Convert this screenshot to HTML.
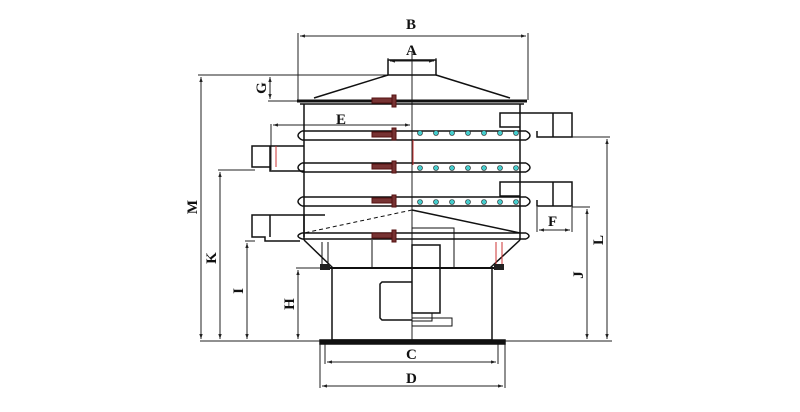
<!DOCTYPE html>
<html><head><meta charset="utf-8"><style>
html,body{margin:0;padding:0;background:#fff;}
svg{display:block;}
text{font-family:"Liberation Serif",serif;font-weight:bold;fill:#111;}
</style></head><body>
<svg width="800" height="412" viewBox="0 0 800 412" xmlns="http://www.w3.org/2000/svg">
<defs>
<marker id="ar" viewBox="0 0 6 6" refX="6" refY="3" markerWidth="5" markerHeight="5" orient="auto-start-reverse"><path d="M0,1 L6,3 L0,5z" fill="#222"/></marker>
</defs>
<g stroke="#222" stroke-width="1" fill="none">
<line x1="298" y1="33" x2="298" y2="100"/><line x1="528" y1="33" x2="528" y2="100"/>
<line x1="300" y1="36" x2="526" y2="36" marker-start="url(#ar)" marker-end="url(#ar)"/>
<line x1="388" y1="58" x2="388" y2="75"/><line x1="436" y1="58" x2="436" y2="75"/>
<line x1="390" y1="61" x2="434" y2="61" marker-start="url(#ar)" marker-end="url(#ar)"/>
<line x1="198" y1="75" x2="390" y2="75"/>
<line x1="201" y1="77" x2="201" y2="339" marker-start="url(#ar)" marker-end="url(#ar)"/>
<line x1="268" y1="101" x2="300" y2="101"/>
<line x1="270" y1="77" x2="270" y2="99" marker-start="url(#ar)" marker-end="url(#ar)"/>
<line x1="200" y1="341" x2="612" y2="341"/>
<line x1="218" y1="170" x2="255" y2="170"/>
<line x1="220" y1="172" x2="220" y2="339" marker-start="url(#ar)" marker-end="url(#ar)"/>
<line x1="245" y1="241" x2="255" y2="241"/>
<line x1="247" y1="243" x2="247" y2="339" marker-start="url(#ar)" marker-end="url(#ar)"/>
<line x1="296" y1="268" x2="332" y2="268"/>
<line x1="298" y1="270" x2="298" y2="339" marker-start="url(#ar)" marker-end="url(#ar)"/>
<line x1="271" y1="124" x2="271" y2="170"/>
<line x1="273" y1="125" x2="410" y2="125" marker-start="url(#ar)" marker-end="url(#ar)"/>
<line x1="572" y1="137" x2="610" y2="137"/>
<line x1="607" y1="139" x2="607" y2="339" marker-start="url(#ar)" marker-end="url(#ar)"/>
<line x1="572" y1="207" x2="590" y2="207"/>
<line x1="587" y1="209" x2="587" y2="339" marker-start="url(#ar)" marker-end="url(#ar)"/>
<line x1="537" y1="207" x2="537" y2="232"/><line x1="572" y1="207" x2="572" y2="232"/>
<line x1="539" y1="230" x2="570" y2="230" marker-start="url(#ar)" marker-end="url(#ar)"/>
<line x1="325" y1="344" x2="325" y2="364"/><line x1="498" y1="344" x2="498" y2="364"/>
<line x1="327" y1="362" x2="496" y2="362" marker-start="url(#ar)" marker-end="url(#ar)"/>
<line x1="320" y1="344" x2="320" y2="388"/><line x1="505" y1="344" x2="505" y2="388"/>
<line x1="322" y1="386" x2="503" y2="386" marker-start="url(#ar)" marker-end="url(#ar)"/>
<line x1="412" y1="52" x2="412" y2="340"/>
</g>
<g stroke="#111" stroke-width="1.5" fill="none">
<rect x="388" y="60" width="48" height="15"/>
<path d="M388,75 L314,98 M436,75 L510,98"/>
<line x1="297" y1="101" x2="527" y2="101" stroke-width="3"/>
<line x1="300" y1="104" x2="524" y2="104"/>
<line x1="304" y1="104" x2="304" y2="240"/><line x1="520" y1="104" x2="520" y2="240"/>
<path d="M302,131 L526,131 M302,140 L526,140 M302,131 Q294,135.5 302,140 M526,131 Q534,135.5 526,140"/>
<path d="M302,163 L526,163 M302,172 L526,172 M302,163 Q294,167.5 302,172 M526,163 Q534,167.5 526,172"/>
<path d="M302,197 L526,197 M302,206 L526,206 M302,197 Q294,201.5 302,206 M526,197 Q534,201.5 526,206"/>
<path d="M302,233 L526,233 M302,239 L526,239 M302,233 Q294,236 302,239 M526,233 Q532,236 526,239"/>
<path d="M304,146 L252,146 L252,167 L270,167 L270,171 L304,171"/>
<line x1="270" y1="146" x2="270" y2="167"/>
<path d="M325,215 L252,215 L252,237 L265,237 L265,241 L300,241"/>
<line x1="270" y1="215" x2="270" y2="237"/><line x1="304" y1="215" x2="304" y2="237"/>
<path d="M520,127 L500,127 L500,113 L572,113 L572,137 L537,137 L537,131"/>
<line x1="553" y1="113" x2="553" y2="137"/>
<path d="M520,196 L500,196 L500,182 L572,182 L572,206 L537,206 L537,200"/>
<line x1="553" y1="182" x2="553" y2="206"/>
<path d="M412,210 L520,233"/>
<path d="M412,210 L304,233" stroke-dasharray="4,3" stroke-width="1"/>
<path d="M304,240 L333,268 M520,240 L490,268"/>
<line x1="372" y1="240" x2="372" y2="268" stroke-width="1"/>
<line x1="328" y1="268" x2="495" y2="268" stroke-width="2"/>
<rect x="332" y="268" width="160" height="72"/>
<rect x="320" y="340" width="185" height="4" fill="#111"/>
<rect x="412" y="245" width="28" height="68"/>
<rect x="412" y="228" width="42" height="40" stroke-width="1"/>
<rect x="412" y="313" width="20" height="8" stroke-width="1"/>
<rect x="412" y="318" width="40" height="8" stroke-width="1"/>
<path d="M412,282 L382,282 L380,284 L380,318 L382,320 L412,320"/>
<line x1="322" y1="242" x2="322" y2="264" stroke-width="1"/><line x1="328" y1="242" x2="328" y2="264" stroke-width="1"/>
<line x1="496" y1="242" x2="496" y2="264" stroke="#c33" stroke-width="1"/><line x1="502" y1="242" x2="502" y2="264" stroke="#c33" stroke-width="1"/>
</g>
<g fill="#222">
<rect x="320" y="264" width="10" height="6"/><rect x="494" y="264" width="10" height="6"/>
</g>
<g fill="#733" stroke="#511">
<rect x="372" y="132" width="20" height="5"/><rect x="392" y="128" width="4" height="12"/>
<rect x="372" y="98" width="20" height="5"/><rect x="392" y="95" width="4" height="12"/>
<rect x="372" y="164" width="20" height="5"/><rect x="392" y="161" width="4" height="12"/>
<rect x="372" y="198" width="20" height="5"/><rect x="392" y="195" width="4" height="12"/>
<rect x="372" y="233" width="20" height="5"/><rect x="392" y="230" width="4" height="12"/>
</g>
<g fill="#4cc" stroke="#222" stroke-width="0.6">
<circle cx="420" cy="133" r="2.5"/><circle cx="436" cy="133" r="2.5"/><circle cx="452" cy="133" r="2.5"/><circle cx="468" cy="133" r="2.5"/><circle cx="484" cy="133" r="2.5"/><circle cx="500" cy="133" r="2.5"/><circle cx="516" cy="133" r="2.5"/>
<circle cx="420" cy="168" r="2.5"/><circle cx="436" cy="168" r="2.5"/><circle cx="452" cy="168" r="2.5"/><circle cx="468" cy="168" r="2.5"/><circle cx="484" cy="168" r="2.5"/><circle cx="500" cy="168" r="2.5"/><circle cx="516" cy="168" r="2.5"/>
<circle cx="420" cy="202" r="2.5"/><circle cx="436" cy="202" r="2.5"/><circle cx="452" cy="202" r="2.5"/><circle cx="468" cy="202" r="2.5"/><circle cx="484" cy="202" r="2.5"/><circle cx="500" cy="202" r="2.5"/><circle cx="516" cy="202" r="2.5"/>
</g>
<g stroke="#c33" stroke-width="1"><line x1="413" y1="140" x2="413" y2="165"/><line x1="276" y1="146" x2="276" y2="167"/></g>
<g font-size="15">
<text x="406" y="29">B</text>
<text x="406" y="55">A</text>
<text x="336" y="124">E</text>
<text x="548" y="226">F</text>
<text x="406" y="359">C</text>
<text x="406" y="383">D</text>
<text transform="translate(266,88) rotate(-90)" text-anchor="middle">G</text>
<text transform="translate(197,207) rotate(-90)" text-anchor="middle">M</text>
<text transform="translate(216,258) rotate(-90)" text-anchor="middle">K</text>
<text transform="translate(243,291) rotate(-90)" text-anchor="middle">I</text>
<text transform="translate(294,304) rotate(-90)" text-anchor="middle">H</text>
<text transform="translate(583,275) rotate(-90)" text-anchor="middle">J</text>
<text transform="translate(603,240) rotate(-90)" text-anchor="middle">L</text>
</g>
</svg>
</body></html>
